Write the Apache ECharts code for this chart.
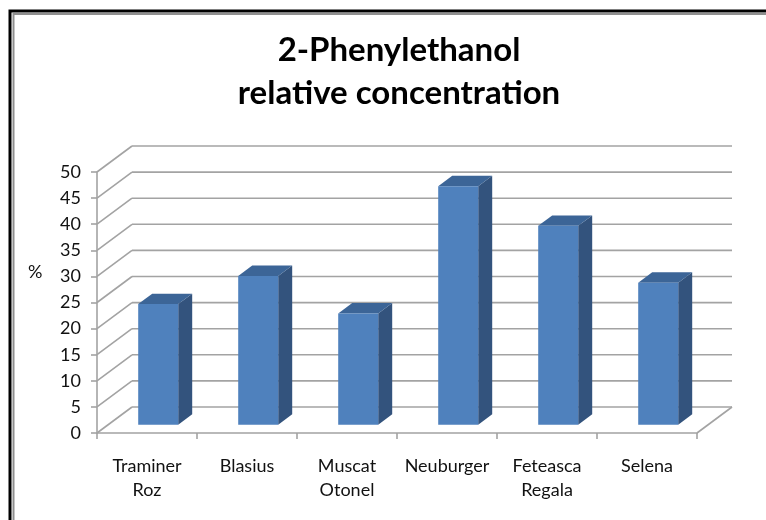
<!DOCTYPE html>
<html>
<head>
<meta charset="utf-8">
<script src="https://cdn.jsdelivr.net/npm/echarts@6/dist/echarts.min.js"></script>
<style>
    html, body { margin: 0; padding: 0; background: #fff; }
    #chart { width: 766px; height: 520px; }
</style>
</head>
<body>
<div id="chart"></div>
<script>
var categories = ['Traminer\nRoz', 'Blasius', 'Muscat\nOtonel', 'Neuburger', 'Feteasca\nRegala', 'Selena'];
var concentration = [23.1, 28.5, 21.3, 45.7, 38.1, 27.2];
var yTicks = [0, 5, 10, 15, 20, 25, 30, 35, 40, 45, 50];

// depth of the fake 3d box, in pixels
var DEPTH_X = 35,
    DEPTH_Y = 26,
    BAR_FRONT = 0.32,
    BAR_BACK = 0.72,
    gridColor = '#a3a3a3',
    font = 'Lato, "Open Sans", sans-serif';

var chart = echarts.init(document.getElementById('chart'));

function renderWall(params, api) {
    var cs = params.coordSys,
        v = api.value(0),
        p = api.coord([0, v]),
        left = cs.x,
        right = cs.x + cs.width,
        y = p[1],
        children = [];
    var style = { stroke: gridColor, lineWidth: 1.6 };
    // side wall diagonal
    children.push({
        type: 'line',
        shape: { x1: left, y1: y, x2: left + DEPTH_X, y2: y - DEPTH_Y },
        style: style
    });
    // back wall line
    children.push({
        type: 'line',
        shape: { x1: left + DEPTH_X, y1: y - DEPTH_Y, x2: right + DEPTH_X, y2: y - DEPTH_Y },
        style: style
    });
    if (v == 0) {
        children.push({
            type: 'line',
            shape: { x1: right, y1: y, x2: right + DEPTH_X, y2: y - DEPTH_Y },
            style: style
        });
    }
    return { type: 'group', children: children };
}

function renderBar(params, api) {
    var i = api.value(0),
        v = api.value(1),
        base = api.coord([i, 0]),
        top = api.coord([i, v]),
        w = api.size([1, 0])[0] * 0.4,
        fx = DEPTH_X * BAR_FRONT,
        fy = DEPTH_Y * BAR_FRONT,
        sx = DEPTH_X * (BAR_BACK - BAR_FRONT),
        sy = DEPTH_Y * (BAR_BACK - BAR_FRONT),
        x0 = base[0] - w / 2 + fx,
        x1 = x0 + w,
        yb = base[1] - fy,
        yt = top[1] - fy;
    return {
        type: 'group',
        children: [
            {
                type: 'polygon',
                shape: { points: [[x1, yb], [x1 + sx, yb - sy], [x1 + sx, yt - sy], [x1, yt]] },
                style: { fill: '#33537d' }
            },
            {
                type: 'polygon',
                shape: { points: [[x0, yt], [x1, yt], [x1 + sx, yt - sy], [x0 + sx, yt - sy]] },
                style: { fill: '#3c6597' }
            },
            {
                type: 'rect',
                shape: { x: x0, y: yt, width: w, height: yb - yt },
                style: { fill: '#4f81bd' }
            }
        ]
    };
}

var wallData = [];
for (var t = 0; t < yTicks.length; t++)
    wallData.push([yTicks[t]]);

var barData = [];
for (var c = 0; c < concentration.length; c++)
    barData.push([c, concentration[c]]);

chart.setOption({
    animation: false,
    title: {
        text: '2-Phenylethanol\nrelative concentration',
        left: 394,
        top: 24,
        textAlign: 'center',
        textStyle: {
            fontFamily: font,
            fontWeight: 'bold',
            fontSize: 33,
            lineHeight: 43,
            color: '#000'
        }
    },
    graphic: [
        {
            type: 'rect',
            shape: { x: 10, y: 11, width: 800, height: 600 },
            style: { fill: 'none', stroke: '#000', lineWidth: 3 }
        },
        {
            type: 'rect',
            shape: { x: 13.5, y: 14, width: 800, height: 600 },
            style: { fill: 'none', stroke: '#8f8f8f', lineWidth: 2 }
        },
        {
            type: 'text',
            left: 28,
            top: 263,
            style: { text: '%', fontFamily: font, fontSize: 18, fill: '#111' }
        }
    ],
    grid: {
        left: 97,
        right: 69,
        top: 172,
        bottom: 87
    },
    xAxis: {
        type: 'category',
        data: categories,
        axisLine: { lineStyle: { color: gridColor, width: 1.6 } },
        axisTick: { show: true, interval: 0, length: 6, lineStyle: { color: gridColor, width: 1.6 } },
        axisLabel: {
            interval: 0,
            margin: 21,
            fontFamily: font,
            fontSize: 18,
            lineHeight: 24,
            color: '#111'
        }
    },
    yAxis: {
        type: 'value',
        min: 0,
        max: 50,
        interval: 5,
        axisLine: { show: true, lineStyle: { color: gridColor, width: 1.6 } },
        axisTick: { show: true, length: 6, lineStyle: { color: gridColor, width: 1.6 } },
        axisLabel: {
            margin: 16,
            fontFamily: font,
            fontSize: 18,
            color: '#111'
        },
        splitLine: { show: false }
    },
    series: [
        {
            type: 'custom',
            renderItem: renderWall,
            data: wallData,
            encode: { y: 0 },
            silent: true,
            z: 1
        },
        {
            type: 'custom',
            name: '2-Phenylethanol',
            renderItem: renderBar,
            data: barData,
            encode: { x: 0, y: 1 },
            z: 3
        }
    ]
});
</script>
</body>
</html>
